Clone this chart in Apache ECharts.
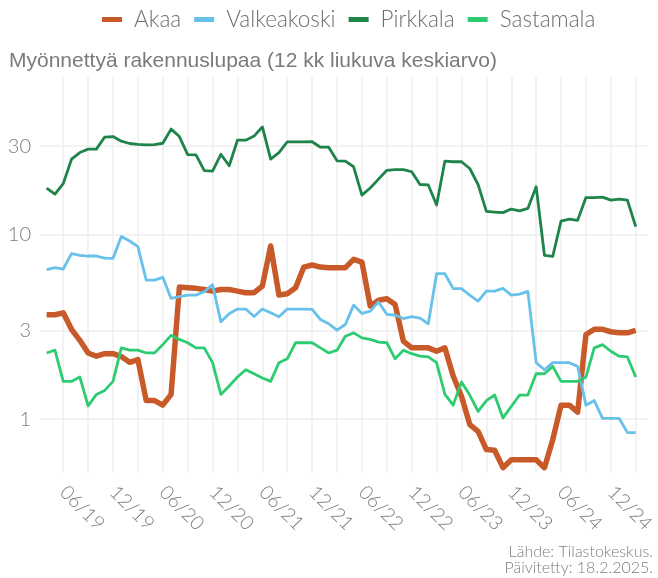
<!DOCTYPE html>
<html><head><meta charset="utf-8">
<script src="https://cdn.jsdelivr.net/npm/echarts@6/dist/echarts.min.js"></script>
<style>html,body{margin:0;padding:0;background:#fff}#c{width:658px;height:578px}</style>
</head><body><div id="c"></div><script>
const months = ['2019-04','2019-05','2019-06','2019-07','2019-08','2019-09','2019-10','2019-11','2019-12',
'2020-01','2020-02','2020-03','2020-04','2020-05','2020-06','2020-07','2020-08','2020-09','2020-10','2020-11','2020-12',
'2021-01','2021-02','2021-03','2021-04','2021-05','2021-06','2021-07','2021-08','2021-09','2021-10','2021-11','2021-12',
'2022-01','2022-02','2022-03','2022-04','2022-05','2022-06','2022-07','2022-08','2022-09','2022-10','2022-11','2022-12',
'2023-01','2023-02','2023-03','2023-04','2023-05','2023-06','2023-07','2023-08','2023-09','2023-10','2023-11','2023-12',
'2024-01','2024-02','2024-03','2024-04','2024-05','2024-06','2024-07','2024-08','2024-09','2024-10','2024-11','2024-12',
'2025-01','2025-02','2025-03'];
const seriesNames = ['Akaa','Valkeakoski','Pirkkala','Sastamala'];
const akaa = [3.67,3.67,3.76,3.06,2.67,2.28,2.19,2.26,2.26,2.18,2.03,2.10,1.26,1.26,1.19,1.36,5.18,5.14,5.10,5.03,4.93,5.03,5.03,4.93,4.83,4.83,5.25,8.64,4.69,4.77,5.14,6.65,6.82,6.65,6.60,6.60,6.60,7.32,7.08,4.09,4.40,4.48,4.17,2.64,2.43,2.43,2.43,2.33,2.43,1.71,1.33,0.934,0.859,0.684,0.678,0.546,0.603,0.603,0.603,0.603,0.546,0.774,1.19,1.19,1.09,2.87,3.06,3.06,2.97,2.93,2.93,3.02];
const valkeakoski = [6.44,6.60,6.49,7.86,7.70,7.63,7.63,7.44,7.41,9.72,9.20,8.58,5.65,5.65,5.85,4.50,4.60,4.69,4.69,4.89,5.34,3.36,3.72,3.94,3.94,3.59,3.94,3.76,3.58,3.94,3.94,3.94,3.92,3.46,3.28,3.03,3.25,4.14,3.73,3.84,4.30,3.69,3.66,3.50,3.59,3.52,3.28,6.12,6.12,5.08,5.08,4.69,4.35,4.93,4.93,5.10,4.69,4.75,4.91,2.02,1.85,2.02,2.02,2.02,1.93,1.19,1.26,1.01,1.01,1.01,0.845,0.845];
const pirkkala = [17.8,16.5,18.8,25.5,27.7,28.9,28.9,33.6,33.8,31.9,31.0,30.7,30.5,30.6,31.1,37.1,33.8,27.0,26.9,22.1,22.0,27.1,23.5,32.3,32.3,34.0,38.1,25.5,27.7,31.6,31.6,31.6,31.7,29.6,29.6,25.0,24.9,23.2,16.3,17.8,19.9,22.2,22.4,22.4,21.8,18.6,18.5,14.4,24.9,24.7,24.7,22.7,18.6,13.3,13.2,13.1,13.7,13.4,13.8,18.1,7.7,7.6,11.8,12.1,11.9,15.8,15.8,15.9,15.3,15.5,15.3,11.0];
const sastamala = [2.28,2.36,1.60,1.60,1.69,1.18,1.36,1.43,1.60,2.43,2.36,2.36,2.28,2.28,2.53,2.84,2.70,2.59,2.43,2.43,2.02,1.36,1.51,1.69,1.85,1.76,1.67,1.60,2.02,2.12,2.59,2.59,2.59,2.43,2.28,2.36,2.81,2.93,2.75,2.70,2.61,2.59,2.12,2.36,2.26,2.19,2.17,2.02,1.36,1.19,1.59,1.35,1.10,1.26,1.35,1.015,1.17,1.35,1.35,1.76,1.76,1.93,1.60,1.60,1.60,1.69,2.43,2.53,2.33,2.19,2.17,1.69];
const xLabelMonths = ['2019-06','2019-12','2020-06','2020-12','2021-06','2021-12','2022-06','2022-12','2023-06','2023-12','2024-06','2024-12'];
const xGridMonths = ['2019-06','2019-09','2019-12','2020-03','2020-06','2020-09','2020-12','2021-03','2021-06','2021-09','2021-12','2022-03','2022-06','2022-09','2022-12','2023-03','2023-06','2023-09','2023-12','2024-03','2024-06','2024-09','2024-12','2025-03'];
const yTicks = [1,3,10,30];
const colors = ['#C85A2A','#67C1E9','#1E8449','#2ECC71'];
const widths = [5.5,2.8,2.8,2.8];

const idx = m => months.indexOf(m);
const fmt = v => { const m = months[Math.round(v)]; return m ? m.slice(5) + '/' + m.slice(2,4) : ''; };
const allSeries = [akaa, valkeakoski, pirkkala, sastamala];
const FONT = 'Lato';
const GRAY = '#7d7d7d';

const chart = echarts.init(document.getElementById('c'), null, {renderer:'canvas'});
chart.setOption({
  animation: false,
  backgroundColor: '#fff',
  color: colors,
  title: {
    text: 'Myönnettyä rakennuslupaa (12 kk liukuva keskiarvo)',
    left: 4, top: 46,
    textStyle: {fontFamily: 'Liberation Sans', fontSize: 21, fontWeight: 'normal', color: '#7a7a7a'}
  },
  legend: {
    top: 3, left: 97,
    icon: 'rect', itemWidth: 20, itemHeight: 5, itemGap: 13,
    textStyle: {fontFamily: FONT, fontSize: 22.5, fontWeight: 300, color: '#6e6e6e', padding: [0,0,0,7]},
    data: seriesNames
  },
  grid: {left: 40, right: 6, top: 77, bottom: 105},
  xAxis: {
    type: 'value',
    min: -0.8, max: 72.43,
    axisLine: {show: false},
    axisTick: {show: false, customValues: xGridMonths.map(idx)},
    splitLine: {show: true, lineStyle: {color: '#eeeeee', width: 1.5}},
    axisLabel: {
      customValues: xLabelMonths.map(idx),
      formatter: v => fmt(v),
      rotate: -45, margin: 16,
      fontFamily: FONT, fontSize: 19.5, fontWeight: 300, color: GRAY
    }
  },
  yAxis: {
    type: 'log',
    min: 0.511, max: 71,
    axisLine: {show: false},
    axisTick: {show: false, customValues: yTicks},
    splitLine: {show: true, lineStyle: {color: '#eeeeee', width: 1.5}},
    axisLabel: {
      customValues: yTicks,
      formatter: v => String(v),
      margin: 9,
      fontFamily: FONT, fontSize: 20, fontWeight: 300, color: GRAY
    }
  },
  series: seriesNames.map((n, k) => ({
    name: n, type: 'line', symbol: 'none', smooth: false,
    lineStyle: {width: widths[k], color: colors[k], join: 'round', cap: 'butt'},
    itemStyle: {color: colors[k]},
    data: months.map((m, i) => [i, allSeries[k][i]])
  })),
  graphic: [
    {type: 'text', right: 5, top: 544, style: {text: 'Lähde: Tilastokeskus.', fontFamily: FONT, fontSize: 16, fontWeight: 300, fill: GRAY, textAlign: 'right'}},
    {type: 'text', right: 5, top: 560, style: {text: 'Päivitetty: 18.2.2025.', fontFamily: FONT, fontSize: 16, fontWeight: 300, fill: GRAY, textAlign: 'right'}}
  ]
});
</script></body></html>
